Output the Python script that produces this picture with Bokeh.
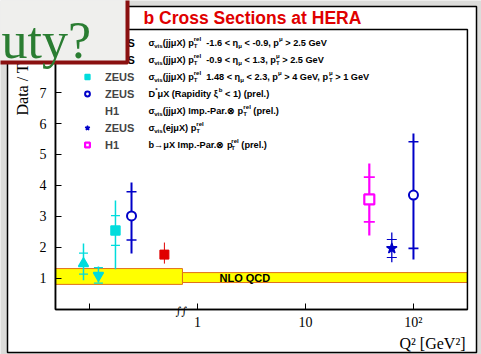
import math
from bokeh.plotting import figure
from bokeh.models import (ColumnDataSource, FixedTicker, Label, BoxAnnotation,
                          Legend, LegendItem, Range1d, LinearAxis, LogAxis)
from bokeh.embed import file_html
from bokeh.resources import INLINE

W, H = 481, 354

# ---- measurements: data / NLO ratio versus Q^2 ----
# photoproduction points (Q^2 ~ 0) are shown left of the axis break
series = ["jj_bwd", "jj_cen", "jj_fwd", "dstar", "h1_jj", "h1_ip", "e_jj", "dstar"]
q2 = [0.088, 0.121, 0.174, 0.245, 0.494, 39.0, 63.0, 100.0]
ratio = [1.48, 1.10, 2.55, 3.02, 1.77, 3.55, 1.97, 3.69]
stat_err = [0.34, 0.25, 0.48, 0.78, 0.15, 0.72, 0.29, 1.72]
err_up = [0.65, 0.29, 0.97, 1.08, 0.39, 1.16, 0.51, 1.99]
err_dn = [0.54, 0.23, 1.25, 1.21, 0.29, 1.16, 0.45, 2.08]

# NLO QCD uncertainty band (photoproduction part, DIS part)
band_q2_lo = [0.0484, 0.726]
band_q2_hi = [0.726, 316.0]
band_lo = [0.81, 0.87]
band_hi = [1.32, 1.19]

x_ticks = [0.1, 1, 10, 100]
x_tick_labels = ["", "1", "10", "10²"]
y_ticks = [1, 2, 3, 4, 5, 6, 7]

# axes extent (data units)
X_MIN, X_MAX = 0.0484, 316.0
Y_MIN, Y_MAX = 0.0, 9.03

legend_names = ["ZEUS", "ZEUS", "ZEUS", "ZEUS", "H1", "ZEUS", "H1"]
legend_keys = ["jj_bwd", "jj_cen", "jj_fwd", "dstar", "h1_jj", "e_jj", "h1_ip"]

CYAN, BLUE, RED, MAG = "#00dcdc", "#0000c8", "#e00000", "#ff00ff"
style = {
    "jj_bwd": dict(marker="triangle", line=CYAN, fill=CYAN, size=10, lw=1.5, tick=9),
    "jj_cen": dict(marker="inverted_triangle", line=CYAN, fill=CYAN, size=10, lw=1.5, tick=9),
    "jj_fwd": dict(marker="square", line=CYAN, fill=CYAN, size=9, lw=1.5, tick=9),
    "dstar": dict(marker="circle", line=BLUE, fill="white", size=9, lw=2, tick=10),
    "h1_jj": dict(marker="square", line=RED, fill=RED, size=9, lw=1, tick=0),
    "h1_ip": dict(marker="square", line=MAG, fill="white", size=10, lw=2.2, tick=11),
    "e_jj": dict(marker="star", line=BLUE, fill=BLUE, size=11, lw=1.3, tick=10),
}

# the plotting frame fills the whole canvas; the axes sit at fixed locations
p = figure(width=W, height=H, x_axis_type="log",
           x_range=Range1d(10 ** -1.824, 10 ** 2.63), y_range=Range1d(-1.452, 9.968),
           x_axis_location=None, y_axis_location=None,
           output_backend="svg", toolbar_location=None, title=None,
           min_border=0)
p.background_fill_color = "#dcdcda"
p.border_fill_color = "#dcdcda"
p.outline_line_color = None
p.grid.visible = False


def sy(y):
    """canvas row (from top) -> screen units (from bottom)"""
    return H - y


def screen_box(left, right, top, bottom, **kw):
    return BoxAnnotation(left=left, right=right, top=sy(top), bottom=sy(bottom),
                         left_units="screen", right_units="screen",
                         top_units="screen", bottom_units="screen", **kw)


# white slide panel
p.add_layout(screen_box(7, 476, 6, 352, fill_color="white", fill_alpha=1,
                        line_color="black", line_alpha=1, line_width=1.5,
                        level="underlay"))

# axes
xax = LogAxis(fixed_location=Y_MIN, bounds=(X_MIN, X_MAX),
              ticker=FixedTicker(ticks=x_ticks, minor_ticks=[]))
xax.major_label_overrides = {t: s for t, s in zip(x_ticks, x_tick_labels)}
xax.major_label_standoff = 6
yax = LinearAxis(fixed_location=X_MIN, bounds=(Y_MIN, Y_MAX),
                 ticker=FixedTicker(ticks=y_ticks, minor_ticks=[]))
yax.major_label_standoff = 9
for ax in (xax, yax):
    ax.axis_line_width = 1.5
    ax.axis_line_color = "black"
    ax.major_tick_in = 6
    ax.major_tick_out = 0
    ax.minor_tick_in = 0
    ax.minor_tick_out = 0
    ax.major_tick_line_width = 1
    ax.major_label_text_font = "Liberation Serif"
    ax.major_label_text_font_size = "14px"
    ax.major_label_text_color = "black"
p.add_layout(xax, "below")
p.add_layout(yax, "left")

# NLO QCD band
p.quad(left=band_q2_lo, right=band_q2_hi, bottom=band_lo, top=band_hi,
       fill_color="#ffff00", line_color="#e0701a", line_width=1)

# data points with total (line) and statistical (tick) errors
marker_renderers = {}
for key in style:
    idx = [i for i, s in enumerate(series) if s == key]
    st = style[key]
    src = ColumnDataSource(dict(
        x=[q2[i] for i in idx], y=[ratio[i] for i in idx],
        lo=[ratio[i] - err_dn[i] for i in idx],
        hi=[ratio[i] + err_up[i] for i in idx],
        slo=[ratio[i] - stat_err[i] for i in idx],
        shi=[ratio[i] + stat_err[i] for i in idx],
    ))
    p.segment(x0="x", x1="x", y0="lo", y1="hi", source=src,
              line_color=st["line"], line_width=st["lw"])
    if st["tick"]:
        for col in ("slo", "shi"):
            p.scatter(x="x", y=col, source=src, marker="dash", size=st["tick"],
                      line_color=st["line"], line_width=st["lw"] * 0.8)
    marker_renderers[key] = p.scatter(x="x", y="y", source=src, marker=st["marker"],
                                      size=st["size"], line_color=st["line"],
                                      fill_color=st["fill"], line_width=st["lw"])

# the H1 legend entry uses a round symbol
marker_renderers["h1_jj_legend"] = p.scatter(x=[], y=[], marker="circle", size=9,
                                             line_color=RED, fill_color=RED)

# plot frame
p.add_layout(BoxAnnotation(left=X_MIN, right=X_MAX, bottom=Y_MIN, top=Y_MAX,
                           fill_alpha=0, line_color="black", line_alpha=1,
                           line_width=1.5))
p.add_layout(Label(x=1.6, y=1.03, text="NLO QCD", text_font="Liberation Sans",
                   text_font_style="bold", text_font_size="11px",
                   text_baseline="middle", text_align="left", text_color="black"))

# ---- legend ----
ROW_Y0, ROW_DY = 42.5, 17
NAME_X, DESC_X = 105, 148
DESC_PX = 9.2

HB = {' ': 278, '(': 333, ')': 333, ',': 278, '-': 333, '.': 278, '*': 389,
      '<': 584, '>': 584, 'A': 722, 'C': 722, 'D': 722, 'E': 667, 'G': 778,
      'I': 278, 'P': 667, 'R': 722, 'S': 667, 'T': 611, 'U': 722, 'V': 667,
      'X': 667, 'a': 556, 'b': 611, 'd': 611, 'e': 556, 'i': 278, 'j': 278,
      'l': 278, 'm': 889, 'n': 611, 'o': 611, 'p': 611, 'r': 389, 's': 556,
      't': 333, 'v': 556, 'y': 556, 'σ': 620, 'μ': 600, 'η': 620, 'ξ': 560,
      '⊗': 840, '→': 840}
for d in "0123456789":
    HB[d] = 556


def text_w(s, px):
    return sum(HB.get(c, 600) for c in s) * px / 1000.0


def put(x, y, s, px, bold=True):
    p.add_layout(Label(x=x, y=y, x_units="screen", y_units="screen", text=s,
                       text_font="Liberation Sans",
                       text_font_style="bold" if bold else "normal",
                       text_font_size=f"{px:.1f}px", text_baseline="middle",
                       text_align="left", text_color="black"))


def rich(x, y, toks, px):
    small = px * 0.66
    for tok in toks:
        kind = tok[0]
        if kind == "n":
            s = tok[1]
            lead = len(s) - len(s.lstrip(" "))
            trail = len(s) - len(s.rstrip(" "))
            core = s.strip(" ")
            x += text_w(" " * lead, px)
            put(x, y, core, px)
            x += text_w(core, px) + text_w(" " * trail, px)
        elif kind == "sub":
            put(x, y - 0.32 * px, tok[1], small)
            x += text_w(tok[1], small)
        elif kind == "sup":
            put(x, y + 0.45 * px, tok[1], small)
            x += text_w(tok[1], small)
        else:
            put(x, y + 0.45 * px, tok[1], small)
            put(x, y - 0.32 * px, tok[2], small)
            x += max(text_w(tok[1], small), text_w(tok[2], small))


desc_rows = [
    [("n", "σ"), ("sub", "vis"), ("n", "(jjμX) p"), ("st", "rel", "T"),
     ("n", "  -1.6 < η"), ("sub", "μ"), ("n", " < -0.9, p"), ("sup", "μ"), ("n", " > 2.5 GeV")],
    [("n", "σ"), ("sub", "vis"), ("n", "(jjμX) p"), ("st", "rel", "T"),
     ("n", "  -0.9 < η"), ("sub", "μ"), ("n", " < 1.3, p"), ("st", "μ", "T"), ("n", " > 2.5 GeV")],
    [("n", "σ"), ("sub", "vis"), ("n", "(jjμX) p"), ("st", "rel", "T"),
     ("n", "  1.48 < η"), ("sub", "μ"), ("n", " < 2.3, p"), ("sup", "μ"),
     ("n", " > 4 GeV, p"), ("st", "μ", "T"), ("n", " > 1 GeV")],
    [("n", "D"), ("sup", "*"), ("n", "μX (Rapidity ξ"), ("sup", "b"), ("n", " < 1) (prel.)")],
    [("n", "σ"), ("sub", "vis"), ("n", "(jjμX) Imp.-Par.⊗ p"), ("st", "rel", "T"), ("n", " (prel.)")],
    [("n", "σ"), ("sub", "vis"), ("n", "(ejμX) p"), ("st", "rel", "T")],
    [("n", "b→μX Imp.-Par.⊗ p"), ("st", "rel", "T"), ("n", " (prel.)")],
]
for i, toks in enumerate(desc_rows):
    rich(DESC_X, sy(ROW_Y0 + i * ROW_DY), toks, DESC_PX)

# the first two entries run under the title box: names only
for i in (0, 1):
    p.add_layout(Label(x=NAME_X, y=sy(ROW_Y0 + i * ROW_DY), x_units="screen",
                       y_units="screen", text=legend_names[i],
                       text_font="Liberation Sans", text_font_style="bold",
                       text_font_size="11px", text_baseline="middle",
                       text_color="black"))

# axis titles and break mark
p.add_layout(Label(x=22, y=sy(115), x_units="screen", y_units="screen",
                   text="Data / Theory", angle=math.pi / 2, text_align="left",
                   text_baseline="middle", text_font="Liberation Serif",
                   text_font_size="16px", text_color="black"))
p.add_layout(Label(x=465, y=sy(343), x_units="screen", y_units="screen",
                   text="Q² [GeV²]", text_align="right", text_baseline="middle",
                   text_font="Liberation Serif", text_font_size="16px",
                   text_color="black"))
p.add_layout(Label(x=181, y=sy(311), x_units="screen", y_units="screen",
                   text="∫∫", text_align="center", text_baseline="middle",
                   text_font="DejaVu Serif", text_font_style="italic",
                   text_font_size="11px", text_color="black"))

# slide header
p.add_layout(Label(x=143, y=sy(17), x_units="screen", y_units="screen",
                   text="b Cross Sections at HERA", text_align="left",
                   text_baseline="middle", text_font="Liberation Sans",
                   text_font_style="bold", text_font_size="17.5px",
                   text_color="#e00000"))

# slide title box in the corner
p.add_layout(screen_box(-10, 127, -10, 62, fill_color="#efefed", fill_alpha=1,
                        line_color="#8a1010", line_alpha=1, line_width=4))
p.add_layout(Label(x=1, y=sy(40), x_units="screen", y_units="screen",
                   text="uty?", text_align="left", text_baseline="alphabetic",
                   text_font="Liberation Serif", text_font_size="52px",
                   text_color="#2a7d32"))

# legend entries below the title box
vis = range(2, 7)
legend = Legend(items=[LegendItem(label=legend_names[i],
                                  renderers=[marker_renderers["h1_jj_legend" if legend_keys[i] == "h1_jj" else legend_keys[i]]])
                       for i in vis],
                location=(81, H - (ROW_Y0 + 6 * ROW_DY + 6.5)),
                padding=0, margin=0, spacing=4,
                glyph_width=12, glyph_height=13, label_height=13, label_standoff=12,
                label_text_font="Liberation Sans", label_text_font_style="bold",
                label_text_font_size="11px", label_text_baseline="middle",
                border_line_color=None, background_fill_alpha=0)
p.add_layout(legend)

open("out.html", "w").write(file_html(p, INLINE))
